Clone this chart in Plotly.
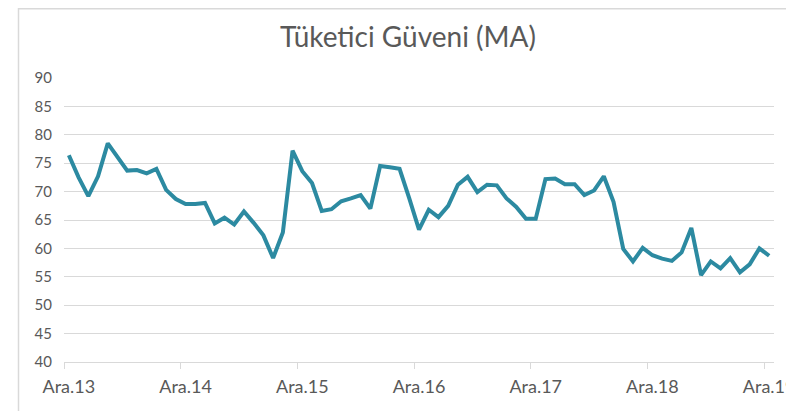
import plotly.graph_objects as go

# Monthly categories, Dec 2013 - Dec 2019 (Turkish month abbreviations)
MONTHS_TR = ['Oca', 'Şub', 'Mar', 'Nis', 'May', 'Haz', 'Tem', 'Ağu', 'Eyl', 'Eki', 'Kas', 'Ara']
months = ['Ara.13'] + [f'{m}.{yy}' for yy in range(14, 20) for m in MONTHS_TR]

# Consumer confidence (seasonally adjusted)
confidence = [
    76.4, 72.5, 69.2, 72.7, 78.5, 76.0, 73.7, 73.8, 73.2, 74.0, 70.3, 68.7,
    67.8, 67.8, 68.0, 64.4, 65.4, 64.2, 66.5, 64.5, 62.3, 58.3, 62.8, 77.2,
    73.6, 71.5, 66.6, 66.9, 68.3, 68.8, 69.4, 67.0, 74.5, 74.3, 74.0, 68.8,
    63.3, 66.8, 65.5, 67.5, 71.2, 72.6, 69.9, 71.2, 71.1, 68.8, 67.3, 65.2,
    65.2, 72.2, 72.3, 71.3, 71.3, 69.4, 70.2, 72.7, 68.2, 59.9, 57.7, 60.1,
    58.8, 58.2, 57.8, 59.3, 63.6, 55.3, 57.7, 56.5, 58.3, 55.8, 57.2, 60.0,
    58.7,
]

y_ticks = list(range(40, 95, 5))

TEXT_COL = '#595959'
GRID_COL = '#D9D9D9'
LINE_COL = '#2C8AA1'
FONT = 'Lato, Carlito, Calibri, sans-serif'

# page body has an 8px margin, so the figure is a bit smaller than the window
W, H = 786, 403
M_L, M_R, M_T, M_B = 56, 20, 70, 49
plot_w = W - M_L - M_R
plot_h = H - M_T - M_B

x_idx = list(range(len(months)))
label_idx = [i for i, m in enumerate(months) if m.startswith('Ara')]

fig = go.Figure()
fig.add_trace(go.Scatter(
    x=x_idx, y=confidence, mode='lines',
    line=dict(color=LINE_COL, width=4),
    customdata=months,
    hovertemplate='%{customdata}: %{y:.1f}<extra></extra>',
))

fig.update_layout(
    width=W, height=H,
    margin=dict(l=M_L, r=M_R, t=M_T, b=M_B),
    paper_bgcolor='white', plot_bgcolor='white',
    showlegend=False,
    font=dict(family=FONT, color=TEXT_COL),
    title=dict(text='Tüketici Güveni (MA)', x=(400 / W), xanchor='center',
               y=1 - 29 / H, yanchor='middle', yref='container',
               font=dict(size=28, color=TEXT_COL, family=FONT)),
    # chart border (top and left edges visible in the crop)
    shapes=[dict(type='rect', xref='paper', yref='paper',
                 x0=(10.5 - M_L) / plot_w, x1=1.1,
                 y0=-0.3, y1=(plot_h + M_T - 0.75) / plot_h,
                 line=dict(color=GRID_COL, width=1.5), layer='below')],
)

fig.update_xaxes(
    range=[-0.5, len(months) - 0.5],
    tickvals=label_idx, ticktext=[months[i] for i in label_idx],
    ticks='', showgrid=False, zeroline=False, automargin=False,
    showline=True, linecolor=GRID_COL, linewidth=1,
    tickfont=dict(size=18, color=TEXT_COL),
    ticklabeloverflow='allow', ticklabelstandoff=8,
    minor=dict(ticks='outside', ticklen=6, tickcolor=GRID_COL, tickwidth=1,
               tick0=-0.5, dtick=12, showgrid=False),
)
fig.update_yaxes(
    range=[40, 90], tickvals=y_ticks, automargin=False,
    showgrid=True, gridcolor=GRID_COL, gridwidth=1, zeroline=False,
    tickfont=dict(size=15, color=TEXT_COL),
    ticklabelstandoff=11,
)

fig.write_html('out.html')
